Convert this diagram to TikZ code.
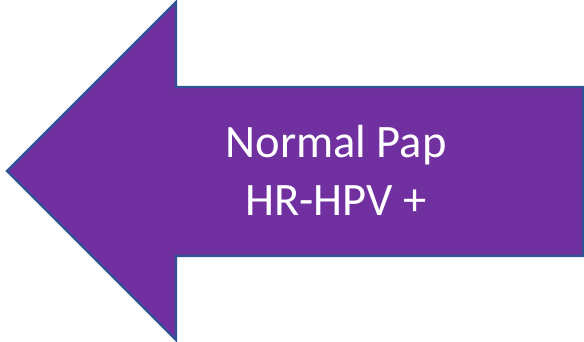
\documentclass[tikz,border=0pt]{standalone}
\usepackage{fontspec}
\setmainfont{Carlito}
\usetikzlibrary{positioning}
\definecolor{papPurple}{HTML}{7030A0}
\definecolor{papBlue}{HTML}{2F5597}
\tikzset{
  arrowbox/.style={draw=papBlue,fill=papPurple,line width=2.2pt,line join=miter},
  label/.style={text=white,align=center,font=\fontsize{46.5}{58}\selectfont,inner sep=0pt}
}
\begin{document}
\begin{tikzpicture}[x=1pt,y=-1pt]
\useasboundingbox (0,0) rectangle (584,342);
% left pointing block arrow
\draw[arrowbox] (7,171) -- (176,2) -- (176,87) -- (583,87) -- (583,256)
  -- (176,256) -- (176,340) -- cycle;
\node[label] (txt) at (336,170) {Normal Pap\\HR-HPV +};
\end{tikzpicture}
\end{document}
